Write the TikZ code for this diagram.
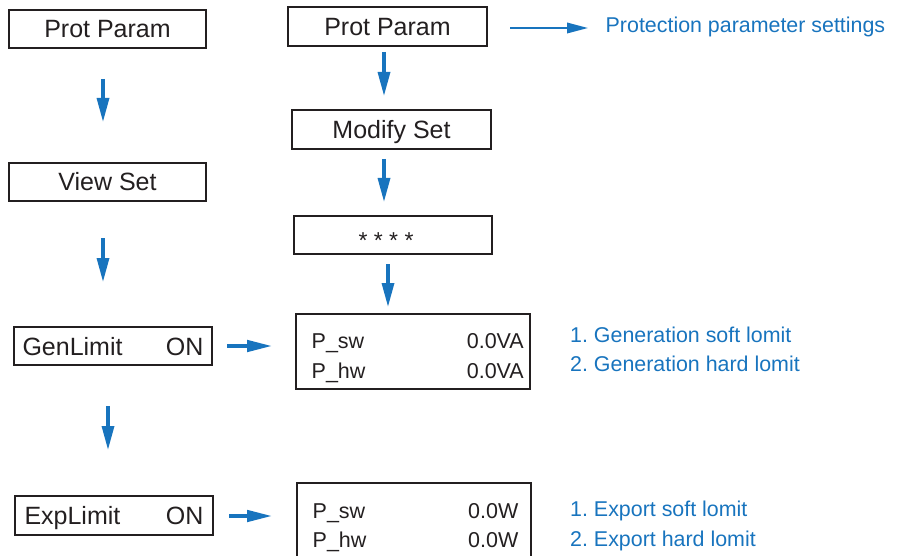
\documentclass[tikz,border=0pt]{standalone}
\usepackage{fontspec}
\setmainfont{Liberation Sans}
\usetikzlibrary{arrows.meta}
\frenchspacing
\definecolor{abl}{RGB}{24,116,190}
\definecolor{bdk}{RGB}{35,31,32}
\newcommand{\bxf}{\fontsize{25}{30}\selectfont}
\newcommand{\vlf}{\fontsize{21.5}{26}\selectfont}
\newcommand{\anf}{\fontsize{21.4}{26}\selectfont}
\tikzset{
  menubox/.style={draw=bdk, line width=2pt, inner sep=0pt, text=bdk,
    font=\bxf, text height=18pt, text depth=0pt},
  vallabel/.style={inner sep=0pt, text=bdk, font=\vlf},
  note/.style={inner sep=0pt, text=abl, font=\anf},
  varr/.style={draw=abl, line width=4.5pt, -{Triangle[length=25pt,width=11.5pt]}},
  harr/.style={draw=abl, line width=4.5pt, -{Triangle[length=26pt,width=11pt]}},
  tarr/.style={draw=abl, line width=1.8pt, -{Triangle[length=21pt,width=10.5pt]}}
}
\begin{document}
\begin{tikzpicture}[x=1pt,y=-1pt]
\useasboundingbox (0,0) rectangle (899,556);
% left column
\node[menubox, minimum width=197pt, minimum height=38pt] (pp1) at (107.5,29) {Prot Param};
\node[menubox, minimum width=197pt, minimum height=38pt] (vs) at (107.5,182) {View Set};
\node[menubox, minimum width=198pt, minimum height=38pt] (gen) at (113,346) {\makebox[181pt]{GenLimit\hfill ON}};
\node[menubox, minimum width=198pt, minimum height=39pt] (exp) at (114,515.5) {\makebox[179pt]{ExpLimit\hfill ON}};
% middle column
\node[menubox, minimum width=199pt, minimum height=39pt] (pp2) at (387.5,26.5) {Prot Param};
\node[menubox, minimum width=199pt, minimum height=39pt] (ms) at (391.5,129.5) {Modify Set};
\node[menubox, minimum width=198pt, minimum height=38pt, font=\fontsize{23}{28}\selectfont, text height=26pt] (pw) at (393,235) {* * * *\kern14pt\relax};
\node[menubox, minimum width=234pt, minimum height=75pt] (gv) at (413,351.5) {};
\node[menubox, minimum width=234pt, minimum height=78pt] (ev) at (414,522) {};
% values
\node[vallabel, anchor=base west] (gsw) at (311.5,348) {P\_sw};
\node[vallabel, anchor=base east] (gswv) at (524,348) {0.0VA};
\node[vallabel, anchor=base west] (ghw) at (311.5,378) {P\_hw};
\node[vallabel, anchor=base east] (ghwv) at (524,378) {0.0VA};
\node[vallabel, anchor=base west] (esw) at (312.5,518.5) {P\_sw};
\node[vallabel, anchor=base east] (eswv) at (518.5,518.5) {0.0W};
\node[vallabel, anchor=base west] (ehw) at (312.5,547) {P\_hw};
\node[vallabel, anchor=base east] (ehwv) at (518.5,547) {0.0W};
% notes
\node[note, anchor=base west] (ttl) at (605.5,33) {Protection parameter settings};
\node[note, anchor=base west] (g1) at (570,342) {1. Generation soft lomit};
\node[note, anchor=base west] (g2) at (570,371) {2. Generation hard lomit};
\node[note, anchor=base west] (e1) at (570,516) {1. Export soft lomit};
\node[note, anchor=base west] (e2) at (570,546) {2. Export hard lomit};
\coordinate (tt) at (588,28);
% arrows
\draw[varr] ([xshift=-4.5pt,yshift=-30pt]pp1.south) -- ([xshift=-4.5pt,yshift=39pt]vs.north);
\draw[varr] ([xshift=-4.5pt,yshift=-36pt]vs.south) -- ([xshift=-10pt,yshift=43pt]gen.north);
\draw[varr] ([xshift=-5pt,yshift=-40pt]gen.south) -- ([xshift=-6pt,yshift=44pt]exp.north);
\draw[varr] ([xshift=-3.5pt,yshift=-5pt]pp2.south) -- ([xshift=-7.5pt,yshift=12pt]ms.north);
\draw[varr] ([xshift=-7.5pt,yshift=-9pt]ms.south) -- ([xshift=-9pt,yshift=12pt]pw.north);
\draw[varr] ([xshift=-5pt,yshift=-9pt]pw.south) -- ([xshift=-25pt,yshift=5pt]gv.north);
\draw[harr] ([xshift=14pt]gen.east) -- ([xshift=-22pt,yshift=5.5pt]gv.west);
\draw[harr] ([xshift=15pt,yshift=-0.5pt]exp.east) -- ([xshift=-23pt,yshift=6pt]ev.west);
\draw[tarr] ([xshift=22pt,yshift=-1.5pt]pp2.east) -- (tt);
\end{tikzpicture}
\end{document}
